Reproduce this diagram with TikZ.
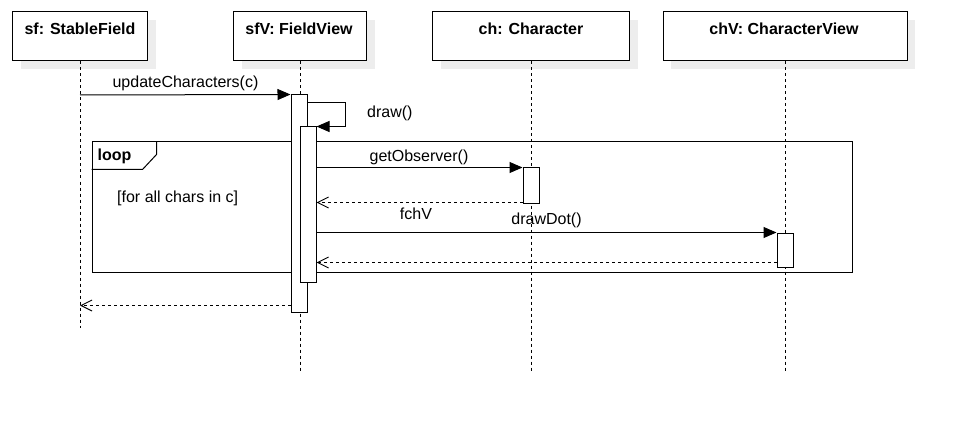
\documentclass[tikz,border=0pt]{standalone}
\usepackage{fontspec}
\setmainfont{Liberation Sans}
\usetikzlibrary{arrows.meta,shadows,calc}
\begin{document}
\begin{tikzpicture}[x=1pt,y=-1pt,
  font=\fontsize{16}{19}\selectfont,
  hdr/.style={draw, line width=1pt, fill=white, inner sep=0, minimum height=49pt,
    drop shadow={shadow xshift=8pt, shadow yshift=-8pt, fill=black!7, opacity=1}},
  htxt/.style={anchor=base, inner sep=0, font=\fontsize{16}{19}\selectfont\bfseries},
  lbl/.style={anchor=base, inner sep=0},
  lifeline/.style={line width=1pt, dash pattern=on 3pt off 3pt},
  actbox/.style={draw, line width=1pt, fill=white, inner sep=0, minimum width=16pt},
  call/.style={line width=1pt, -{Triangle[length=13pt,width=11pt]}},
  ret/.style={line width=1pt, dash pattern=on 3pt off 3pt, -{Straight Barb[length=11pt,width=11pt]}},
  frame/.style={draw, line width=1pt, inner sep=0}
]
\useasboundingbox (0,0) rectangle (956,425);

% headers
\node[hdr, minimum width=135pt] (sf) at (80,36.5) {};
\node[hdr, minimum width=133pt] (sfV) at (300,36.5) {};
\node[hdr, minimum width=197pt] (ch) at (531,36.5) {};
\node[hdr, minimum width=244pt] (chV) at (785,36.5) {};
\node[htxt] (sft) at (80,35) {sf: StableField};
\node[htxt] (sfVt) at (299,35) {sfV: FieldView};
\node[htxt] (cht) at (531,35) {ch: Character};
\node[htxt] (chVt) at (784,35) {chV: CharacterView};

% lifelines
\coordinate (sfE) at (80,328);
\coordinate (sfVE) at (300,373);
\coordinate (chE) at (531,373);
\coordinate (chVE) at (785,373);
\draw[lifeline] (sf) -- (sfE);
\draw[lifeline] (sfV) -- (sfVE);
\draw[lifeline] (ch) -- (chE);
\draw[lifeline] (chV) -- (chVE);

% loop frame
\node[frame, minimum width=760pt, minimum height=130pt] (loop) at (472,207) {};
\draw[line width=1pt] ([xshift=65pt]loop.north west) -- ++(0,13) -- ++(-14,15) -- ++(-51,0);
\node[lbl, anchor=base west, font=\fontsize{16}{19}\selectfont\bfseries] (looplbl) at (97.5,160.5) {loop};
\node[lbl, anchor=base west] (guard) at (117,202.5) {[for all chars in c]};

% activations
\node[actbox, minimum height=217pt] (actF) at (299,203.5) {};
\node[actbox, minimum height=155pt] (actF2) at (308,204.5) {};
\node[actbox, minimum height=35pt] (actCh) at (531,185.5) {};
\node[actbox, minimum height=34pt] (actChV) at (785,250) {};

% updateCharacters
\coordinate (m1s) at (80,95);
\draw[call] (m1s) -- (actF.north west);
\node[lbl] (m1l) at (185.5,88) {updateCharacters(c)};

% draw() self call
\draw[call] ([yshift=-8pt]actF.north east) -- ++(38,0) |- (actF2.north east);
\node[lbl, anchor=base west] (m2l) at (367,118) {draw()};

% getObserver
\draw[call] (actF2.east |- actCh.north west) -- (actCh.north west);
\node[lbl] (m3l) at (419,162) {getObserver()};
\coordinate (r1) at ([yshift=1pt]actCh.south west);
\draw[ret] (r1) -- (actF2.east |- r1);
\node[lbl] (r1l) at (416,219) {fchV};

% drawDot
\draw[call] (actF2.east |- actChV.north west) -- (actChV.north west);
\node[lbl] (m4l) at (546.5,224) {drawDot()};
\coordinate (r2) at ([yshift=5pt]actChV.south west);
\draw[ret] (r2) -- (actF2.east |- r2);

% final return
\coordinate (r3) at ([yshift=7pt]actF.south west);
\draw[ret] (r3) -- (sf |- r3);
\end{tikzpicture}
\end{document}
